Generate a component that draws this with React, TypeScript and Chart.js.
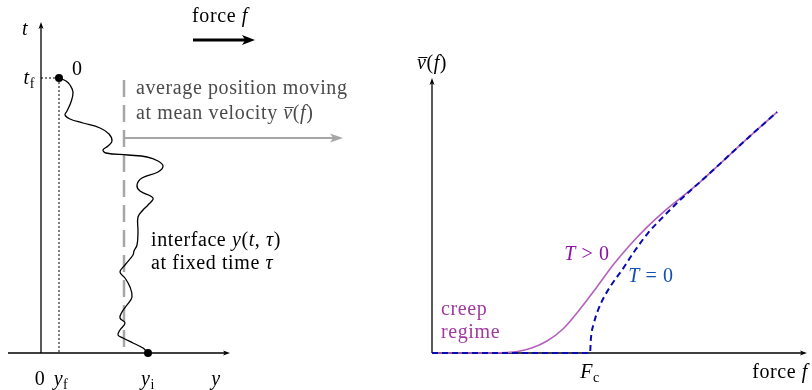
import React, { useEffect, useRef } from "react";
import { Chart, registerables } from "chart.js";

Chart.register(...registerables);

// ---- Left panel: interface profile at fixed time tau ----
// lateral position y along the interface, and the time coordinate t
const interfaceY = [
  1.8, 2.5, 2.9, 3.2, 3.0, 2.6, 2.4, 2.9, 4.2, 5.9, 6.8, 7.1, 6.7, 6.2, 6.5, 8.7,
  10.6, 11.7, 12.2, 11.7, 10.1, 9.6, 9.9, 11.2, 10.7, 10.2, 9.7, 9.7, 9.6, 9.3,
  9.2, 8.4, 7.9, 8.4, 8.9, 9.1, 8.6, 8.1, 7.9, 8.4, 7.9, 7.7, 8.2, 9.2, 10.2, 10.7,
];
const interfaceT = [
  27.5, 27.2, 26.8, 26.1, 25.1, 24.2, 23.8, 23.4, 23.0, 22.5, 21.9, 21.2, 20.7,
  20.3, 20.0, 19.8, 19.6, 19.2, 18.7, 18.1, 17.5, 16.8, 16.2, 15.5, 14.8, 14.3,
  13.6, 12.1, 10.8, 10.2, 9.8, 8.8, 8.1, 7.5, 6.6, 5.6, 4.8, 4.1, 3.5, 3.0, 2.3,
  1.8, 1.5, 1.0, 0.5, 0.0,
];
const finalPos = 1.8; // y_f
const finalTime = 27.5; // t_f
const initialPos = 10.7; // y_i
const meanPos = 8.3; // average position of the interface
const meanArrowY = 21.5;
const meanArrowEnd = 30.2;
const yAxisEnd = 18.9;
const tAxisEnd = 33.1;

// ---- Right panel: mean velocity vs driving force ----
const criticalForce = 1.0; // F_c
const forceZeroT = [
  0, 1.0, 1.006, 1.025, 1.051, 1.089, 1.139, 1.203, 1.278, 1.367, 1.462, 1.57,
  1.696, 1.835, 2.0, 2.184,
];
const velocityZeroT = [
  0, 0, 0.095, 0.19, 0.272, 0.354, 0.437, 0.525, 0.639, 0.759, 0.861, 0.968,
  1.082, 1.209, 1.361, 1.525,
];
const forcePosT = [
  0, 0.304, 0.513, 0.639, 0.728, 0.829, 0.937, 1.044, 1.146, 1.253, 1.361, 1.468,
  1.57, 1.696, 1.835, 2.0, 2.184,
];
const velocityPosT = [
  0, 0, 0.006, 0.035, 0.076, 0.152, 0.278, 0.418, 0.557, 0.684, 0.797, 0.895,
  0.978, 1.082, 1.209, 1.361, 1.525,
];
const forceAxisEnd = 2.373;
const velocityAxisEnd = 1.74;

const W = 812;
const H = 390;
const FONT = '"Liberation Serif", "Times New Roman", serif';
const TEXT_SIZE = 20;
const TRACKING = "0.6px";

const PURPLE_LINE = "#b461bd";
const PURPLE_TEXT = "#8e12a2";
const CREEP_TEXT = "#a2399f";
const BLUE_LINE = "#0a0ab4";
const BLUE_TEXT = "#1050b4";
const GRAY = "#a6a6a6";

type Seg = { s: string; it?: boolean; sub?: boolean; bar?: boolean };

function drawRich(
  ctx: CanvasRenderingContext2D,
  segs: Seg[],
  x: number,
  y: number,
  align: "left" | "center" | "right",
  size: number,
  color: string
) {
  ctx.save();
  (ctx as any).letterSpacing = TRACKING;
  const fontOf = (g: Seg) =>
    `${g.it ? "italic " : ""}${g.sub ? Math.round(size * 0.7) : size}px ${FONT}`;
  const widths = segs.map((g) => {
    ctx.font = fontOf(g);
    return ctx.measureText(g.s).width;
  });
  const total = widths.reduce((a, b) => a + b, 0);
  let cx = align === "center" ? x - total / 2 : align === "right" ? x - total : x;
  ctx.fillStyle = color;
  ctx.strokeStyle = color;
  ctx.textAlign = "left";
  ctx.textBaseline = "alphabetic";
  segs.forEach((g, i) => {
    ctx.font = fontOf(g);
    const yy = g.sub ? y + size * 0.2 : y;
    ctx.fillText(g.s, cx, yy);
    if (g.bar) {
      ctx.lineWidth = 1;
      ctx.beginPath();
      const by = Math.round(y - size * 0.62) + 0.5;
      ctx.moveTo(cx + 1.5, by);
      ctx.lineTo(cx + widths[i] + 1, by);
      ctx.stroke();
    }
    cx += widths[i];
  });
  ctx.restore();
}

function arrow(
  ctx: CanvasRenderingContext2D,
  x1: number,
  y1: number,
  x2: number,
  y2: number,
  color: string,
  width: number,
  headLen: number,
  headW: number
) {
  const a = Math.atan2(y2 - y1, x2 - x1);
  const bx = x2 - headLen * Math.cos(a);
  const by = y2 - headLen * Math.sin(a);
  ctx.save();
  ctx.strokeStyle = color;
  ctx.fillStyle = color;
  ctx.lineWidth = width;
  ctx.setLineDash([]);
  ctx.beginPath();
  ctx.moveTo(x1, y1);
  ctx.lineTo(bx + 0.5 * headLen * Math.cos(a), by + 0.5 * headLen * Math.sin(a));
  ctx.stroke();
  const nx = -Math.sin(a);
  const ny = Math.cos(a);
  const ix = x2 - headLen * 0.75 * Math.cos(a);
  const iy = y2 - headLen * 0.75 * Math.sin(a);
  ctx.beginPath();
  ctx.moveTo(x2, y2);
  ctx.lineTo(bx + (nx * headW) / 2, by + (ny * headW) / 2);
  ctx.lineTo(ix, iy);
  ctx.lineTo(bx - (nx * headW) / 2, by - (ny * headW) / 2);
  ctx.closePath();
  ctx.fill();
  ctx.restore();
}

function line(
  ctx: CanvasRenderingContext2D,
  x1: number,
  y1: number,
  x2: number,
  y2: number,
  color: string,
  width: number,
  dash: number[] = []
) {
  ctx.save();
  ctx.strokeStyle = color;
  ctx.lineWidth = width;
  ctx.setLineDash(dash);
  ctx.beginPath();
  ctx.moveTo(x1, y1);
  ctx.lineTo(x2, y2);
  ctx.stroke();
  ctx.restore();
}

function dot(ctx: CanvasRenderingContext2D, x: number, y: number, r: number) {
  ctx.save();
  ctx.fillStyle = "#000";
  ctx.beginPath();
  ctx.arc(x, y, r, 0, Math.PI * 2);
  ctx.fill();
  ctx.restore();
}

const diagramPlugin = {
  id: "diagram",
  beforeDatasetsDraw(chart: any) {
    const ctx: CanvasRenderingContext2D = chart.ctx;
    const { xL, yL, xR, yR } = chart.scales;
    const lx = (v: number) => xL.getPixelForValue(v);
    const ly = (v: number) => yL.getPixelForValue(v);
    const rx = (v: number) => xR.getPixelForValue(v);
    const ry = (v: number) => yR.getPixelForValue(v);

    // left axes
    arrow(ctx, lx(-3.3), ly(0), lx(yAxisEnd), ly(0), "#000", 1.3, 7, 5);
    arrow(ctx, lx(0), ly(0), lx(0), ly(tAxisEnd), "#000", 1.3, 7, 5);

    // dotted guides to the final point
    line(ctx, lx(0), ly(finalTime), lx(finalPos), ly(finalTime), "#000", 1, [2, 2]);
    line(ctx, lx(finalPos), ly(finalTime), lx(finalPos), ly(0), "#000", 1, [2, 2]);

    // average interface position
    line(ctx, lx(meanPos), ly(27.3), lx(meanPos), ly(0), GRAY, 2.5, [17, 8]);
    arrow(ctx, lx(meanPos), ly(meanArrowY), lx(meanArrowEnd), ly(meanArrowY), GRAY, 1.8, 13, 9);

    // driving force arrow
    arrow(ctx, lx(15.2), ly(31.3), lx(21.4), ly(31.3), "#000", 3, 13, 10);

    // right axes
    arrow(ctx, rx(0), ry(0), rx(forceAxisEnd), ry(0), "#000", 1.3, 7, 5);
    arrow(ctx, rx(0), ry(0), rx(0), ry(velocityAxisEnd), "#000", 1.3, 7, 5);
  },
  afterDatasetsDraw(chart: any) {
    const ctx: CanvasRenderingContext2D = chart.ctx;
    const { xL, yL, xR } = chart.scales;
    const lx = (v: number) => xL.getPixelForValue(v);
    const ly = (v: number) => yL.getPixelForValue(v);
    const rx = (v: number) => xR.getPixelForValue(v);
    const S = TEXT_SIZE;

    dot(ctx, lx(finalPos), ly(finalTime), 4);
    dot(ctx, lx(initialPos), ly(0), 4);

    // left panel labels
    drawRich(ctx, [{ s: "t", it: true }], 25, 35, "center", S, "#000");
    drawRich(ctx, [{ s: "t", it: true }, { s: "f", sub: true }], 35, 84, "right", S, "#000");
    drawRich(ctx, [{ s: "0" }], 72, 75, "left", S, "#000");
    drawRich(ctx, [{ s: "0" }], lx(0) - 1, 385, "center", S, "#000");
    drawRich(ctx, [{ s: "y", it: true }, { s: "f", sub: true }], lx(finalPos) + 2, 385, "center", S, "#000");
    drawRich(ctx, [{ s: "y", it: true }, { s: "i", sub: true }], lx(initialPos), 385, "center", S, "#000");
    drawRich(ctx, [{ s: "y", it: true }], 216, 385, "center", S, "#000");
    drawRich(ctx, [{ s: "force " }, { s: "f", it: true }], 220, 22, "center", S, "#000");
    drawRich(ctx, [{ s: "average position moving" }], 136, 94, "left", S, "#4a4a4a");
    drawRich(
      ctx,
      [{ s: "at mean velocity " }, { s: "v", it: true, bar: true }, { s: "(" }, { s: "f", it: true }, { s: ")" }],
      136,
      119,
      "left",
      S,
      "#4a4a4a"
    );
    drawRich(
      ctx,
      [{ s: "interface " }, { s: "y", it: true }, { s: "(" }, { s: "t", it: true }, { s: ", " }, { s: "τ", it: true }, { s: ")" }],
      151,
      246,
      "left",
      S,
      "#000"
    );
    drawRich(ctx, [{ s: "at fixed time " }, { s: "τ", it: true }], 151, 269, "left", S, "#000");

    // right panel labels
    drawRich(
      ctx,
      [{ s: "v", it: true, bar: true }, { s: "(" }, { s: "f", it: true }, { s: ")" }],
      rx(0),
      69,
      "center",
      S,
      "#000"
    );
    drawRich(ctx, [{ s: "F", it: true }, { s: "c", sub: true }], rx(criticalForce), 378, "center", S, "#000");
    drawRich(ctx, [{ s: "force " }, { s: "f", it: true }], 808, 378, "right", S, "#000");
    drawRich(ctx, [{ s: "creep" }], 441, 315, "left", S, CREEP_TEXT);
    drawRich(ctx, [{ s: "regime" }], 441, 338, "left", S, CREEP_TEXT);
    drawRich(ctx, [{ s: "T", it: true }, { s: " > 0" }], 587, 260, "center", S, PURPLE_TEXT);
    drawRich(ctx, [{ s: "T", it: true }, { s: " = 0" }], 651, 282, "center", S, BLUE_TEXT);
  },
};

const pts = (xs: number[], ys: number[]) => xs.map((x, i) => ({ x, y: ys[i] }));

export default function App() {
  const ref = useRef<HTMLCanvasElement | null>(null);

  useEffect(() => {
    if (!ref.current) return;
    const chart = new Chart(ref.current, {
      type: "scatter",
      data: {
        datasets: [
          {
            label: "T = 0",
            data: pts(forceZeroT, velocityZeroT),
            xAxisID: "xR",
            yAxisID: "yR",
            showLine: true,
            borderColor: BLUE_LINE,
            borderWidth: 2,
            borderDash: [6, 4],
            pointRadius: 0,
            cubicInterpolationMode: "monotone",
          },
          {
            label: "T > 0",
            data: pts(forcePosT, velocityPosT),
            xAxisID: "xR",
            yAxisID: "yR",
            showLine: true,
            borderColor: PURPLE_LINE,
            borderWidth: 1.6,
            pointRadius: 0,
            cubicInterpolationMode: "monotone",
          },
          {
            label: "interface",
            data: pts(interfaceY, interfaceT),
            xAxisID: "xL",
            yAxisID: "yL",
            showLine: true,
            borderColor: "#000",
            borderWidth: 1.3,
            pointRadius: 0,
            tension: 0.4,
          },
        ],
      },
      options: {
        animation: false,
        responsive: false,
        devicePixelRatio: 1,
        layout: { padding: 0 },
        plugins: { legend: { display: false }, tooltip: { enabled: false }, title: { display: false } },
        events: [],
        scales: {
          xL: { type: "linear", display: false, min: -4.1, max: -4.1 + W / 10 },
          yL: { type: "linear", display: false, min: 35.3 - H / 10, max: 35.3 },
          xR: { type: "linear", display: false, min: -432 / 158, max: (W - 432) / 158 },
          yR: { type: "linear", display: false, min: (353 - H) / 158, max: 353 / 158 },
        },
      },
      plugins: [diagramPlugin],
    } as any);
    return () => chart.destroy();
  }, []);

  return (
    <div style={{ position: "fixed", left: 0, top: 0, width: W, height: H, background: "#fff" }}>
      <canvas ref={ref} width={W} height={H} style={{ width: W, height: H, display: "block" }} />
    </div>
  );
}
